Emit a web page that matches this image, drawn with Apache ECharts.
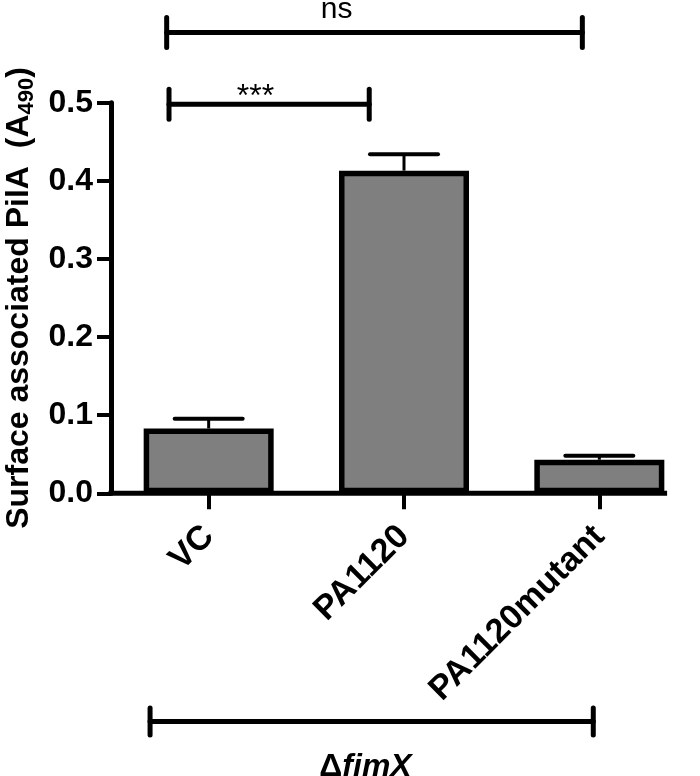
<!DOCTYPE html>
<html><head><meta charset="utf-8">
<script src="https://cdn.jsdelivr.net/npm/echarts@6/dist/echarts.min.js"></script>
<style>html,body{margin:0;padding:0;background:#fff}#c{width:700px;height:776px}</style>
</head><body><div id="c"></div>
<script>
// ---- data ----
const categories = ['VC', 'PA1120', 'PA1120mutant'];
const means = [0.083, 0.413, 0.043];
const errors = [0.0125, 0.021, 0.005];
const yMin = 0, yMax = 0.5, yStep = 0.1;
// brackets: [x1, x2, y] in (category index, value) units
const brackets = [[-0.215, 1.913, 0.590], [-0.203, 0.822, 0.498], [-0.300, 1.969, -0.292]];
const bracketLabels = ['ns', '***', '{d|Δ}{i|fimX}'];
const bracketLabelX = [0.655, 0.240, 0.803];
const yTitle = '{a|Surface associated PilA  (A}{s|490}{a|)}';

// ---- styles ----
const FONT = 'Liberation Sans, Arial, Helvetica, sans-serif';
const BAR_W = 130, BAR_BORDER = 5.5;
const labelStyle = [
  {dy: -8, va: 'bottom', font: 'normal 30px ' + FONT},
  {dy: 9, va: 'bottom', font: 'normal 32px ' + FONT},
  {dy: 30, va: 'top', font: 'bold 32px ' + FONT}
];
const tickHalf = [15, 15, 13.5];

const chart = echarts.init(document.getElementById('c'), null, {renderer: 'canvas'});
chart.setOption({
  animation: false,
  backgroundColor: '#fff',
  grid: {left: 111, right: 3, top: 102.7, bottom: 282.7, containLabel: false, outerBoundsMode: 'none'},
  xAxis: [{
    type: 'category', data: categories, boundaryGap: true,
    axisLine: {show: false},
    axisTick: {show: true, alignWithLabel: true, length: 16, lineStyle: {color: '#000', width: 4}},
    axisLabel: {rotate: 45, margin: 38, color: '#000', fontSize: 34, fontWeight: 'bold', fontFamily: FONT, interval: 0},
    splitLine: {show: false}
  }, {
    type: 'value', min: -0.5, max: 2.5, show: false
  }],
  yAxis: {
    type: 'value', min: yMin, max: yMax, interval: yStep,
    axisLine: {show: true, onZero: false, lineStyle: {color: '#000', width: 5}},
    axisTick: {show: true, length: 14, lineStyle: {color: '#000', width: 4}},
    axisLabel: {margin: 18, color: '#000', fontSize: 32, fontWeight: 'bold', fontFamily: FONT,
      formatter: v => v.toFixed(1)},
    splitLine: {show: false},
    name: yTitle, nameLocation: 'middle', nameRotate: 90, nameGap: 72,
    nameTextStyle: {rich: {
      a: {fontSize: 32, fontWeight: 'bold', fontFamily: FONT, color: '#000', lineHeight: 36},
      s: {fontSize: 22, fontWeight: 'bold', fontFamily: FONT, color: '#000', verticalAlign: 'bottom', lineHeight: 22}
    }}
  },
  series: [{
    type: 'bar', data: means, barWidth: BAR_W, xAxisIndex: 0,
    itemStyle: {color: '#7f7f7f', borderColor: '#000', borderWidth: BAR_BORDER},
    z: 2
  }, {
    type: 'custom', xAxisIndex: 0, yAxisIndex: 0, z: 3,
    data: means.map((m, i) => [i, m, m + errors[i]]),
    renderItem: (params, api) => {
      const base = api.coord([api.value(0), api.value(1)]);
      const top = api.coord([api.value(0), api.value(2)]);
      const hw = 34;
      return {type: 'group', children: [
        {type: 'line', shape: {x1: top[0], y1: base[1], x2: top[0], y2: top[1]}, style: {stroke: '#000', lineWidth: 3}},
        {type: 'line', shape: {x1: top[0] - hw, y1: top[1], x2: top[0] + hw, y2: top[1]}, style: {stroke: '#000', lineWidth: 4, lineCap: 'round'}}
      ]};
    }
  }, {
    type: 'custom', xAxisIndex: 1, yAxisIndex: 0, z: 4, clip: false,
    data: brackets.map((b, i) => [b[0], b[1], b[2], i]),
    renderItem: (params, api) => {
      const i = api.value(3);
      const p1 = api.coord([api.value(0), api.value(2)]);
      const p2 = api.coord([api.value(1), api.value(2)]);
      const lp = api.coord([bracketLabelX[i], api.value(2)]);
      const h = tickHalf[i];
      const ls = labelStyle[i];
      const st = {stroke: '#000', lineWidth: 5, lineCap: 'round'};
      const children = [
        {type: 'line', shape: {x1: p1[0], y1: p1[1], x2: p2[0], y2: p2[1]}, style: st},
        {type: 'line', shape: {x1: p1[0], y1: p1[1] - h, x2: p1[0], y2: p1[1] + h}, style: st},
        {type: 'line', shape: {x1: p2[0], y1: p2[1] - h, x2: p2[0], y2: p2[1] + h}, style: st},
        {type: 'text', x: lp[0], y: lp[1] + ls.dy, style: {
          text: bracketLabels[i], font: ls.font, fill: '#000', textAlign: 'center', textVerticalAlign: ls.va,
          rich: {
            d: {fontSize: 32, fontWeight: 'bold', fontFamily: FONT, fill: '#000'},
            i: {fontSize: 32, fontWeight: 'bold', fontStyle: 'italic', fontFamily: FONT, fill: '#000'}
          }
        }}
      ];
      if (i === 0) {
        // x-axis baseline drawn from the y axis to the right edge of the last bar
        const o = api.coord([-0.5, 0]);
        const last = api.coord([categories.length - 1, 0]);
        children.push({type: 'line', shape: {x1: o[0] - 2.5, y1: o[1], x2: last[0] + (BAR_W + BAR_BORDER) / 2, y2: o[1]},
          style: {stroke: '#000', lineWidth: 5}});
      }
      return {type: 'group', children};
    }
  }]
});
</script>
</body></html>
